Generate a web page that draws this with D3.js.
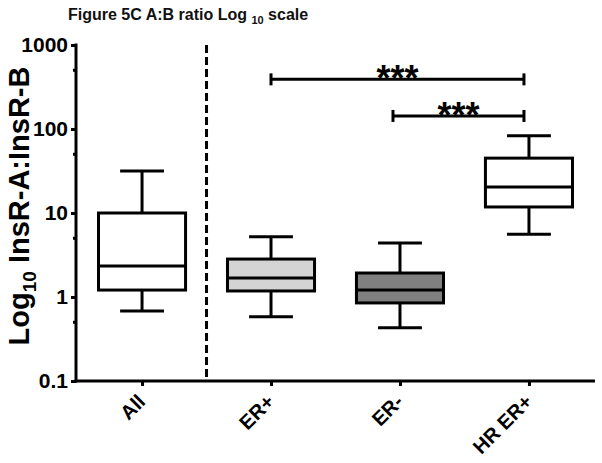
<!DOCTYPE html>
<html>
<head>
<meta charset="utf-8">
<script src="https://cdn.jsdelivr.net/npm/d3@7"></script>
<style>
  html, body { margin: 0; padding: 0; background: #fff; }
  svg { display: block; font-family: "Liberation Sans", Arial, sans-serif; }
</style>
</head>
<body>
<svg id="chart" width="602" height="463"></svg>
<script>
// ---- data ----
const categories = ["All", "ER+", "ER-", "HR ER+"];
const whiskerLow  = [0.68, 0.58, 0.43, 5.6];
const quartile1   = [1.21, 1.18, 0.85, 11.8];
const medians     = [2.34, 1.68, 1.21, 20.4];
const quartile3   = [10.0, 2.83, 1.93, 45];
const whiskerHigh = [31.6, 5.2, 4.4, 83];
const fills = ["#ffffff", "#d4d4d4", "#808080", "#ffffff"];
const yTicks = [0.1, 1, 10, 100, 1000];
const yMinorTicks = [0.5, 5, 50, 500];
// significance comparisons
const sigFrom = ["ER+", "ER-"];
const sigTo = ["HR ER+", "HR ER+"];
const sigLevel = [390, 143];
const sigLabel = ["***", "***"];

(function () {
const svg = d3.select("#chart");
const mLeft = 76, mRight = 595, mTop = 45, mBottom = 381;

const x = d3.scalePoint().domain(categories).range([mLeft, mRight]).padding(0.512);
const y = d3.scaleLog().domain([0.1, 1000]).range([mBottom, mTop]);
const step = x.step();
const boxW = step * 0.675;
const capW = step * 0.34;

// title
const title = svg.append("text")
  .attr("x", 68).attr("y", 20)
  .attr("font-size", 16).attr("font-weight", "bold").attr("fill", "#111");
title.append("tspan").text("Figure 5C A:B ratio Log ");
title.append("tspan").attr("font-size", 11).attr("dy", 4).text("10");
title.append("tspan").attr("dy", -4).text(" scale");

// y axis
const yAxis = d3.axisLeft(y).tickValues(yTicks).tickFormat(d3.format("~g")).tickSize(5).tickPadding(3);
const gy = svg.append("g").attr("transform", `translate(${mLeft},0)`).call(yAxis);
gy.select(".domain").remove();
gy.selectAll(".tick line").attr("stroke", "#000").attr("stroke-width", 3);
gy.selectAll(".tick text").attr("font-size", 21).attr("font-weight", "bold")
  .attr("fill", "#000").attr("font-family", "'Liberation Sans', Arial, sans-serif");
svg.append("g").selectAll("line").data(yMinorTicks).join("line")
  .attr("x1", mLeft - 3).attr("x2", mLeft)
  .attr("y1", d => y(d)).attr("y2", d => y(d))
  .attr("stroke", "#000").attr("stroke-width", 3);
svg.append("line").attr("x1", mLeft).attr("x2", mLeft).attr("y1", mTop - 1.5).attr("y2", mBottom + 1.5)
  .attr("stroke", "#000").attr("stroke-width", 3);

// x axis
const xAxis = d3.axisBottom(x).tickSize(5).tickPadding(0);
const gx = svg.append("g").attr("transform", `translate(0,${mBottom})`).call(xAxis);
gx.select(".domain").remove();
gx.selectAll(".tick line").attr("stroke", "#000").attr("stroke-width", 3);
gx.selectAll(".tick text")
  .attr("font-size", 20).attr("font-weight", "bold").attr("fill", "#000")
  .attr("font-family", "'Liberation Sans', Arial, sans-serif")
  .attr("text-anchor", "end").attr("dy", null).attr("y", 0)
  .attr("transform", "translate(4,22) rotate(-45)");
svg.append("line").attr("x1", mLeft - 1.5).attr("x2", mRight).attr("y1", mBottom).attr("y2", mBottom)
  .attr("stroke", "#000").attr("stroke-width", 3);

// y label
const yl = svg.append("text")
  .attr("transform", `translate(29,206) rotate(-90)`)
  .attr("text-anchor", "middle").attr("font-size", 29).attr("font-weight", "bold").attr("fill", "#000");
yl.append("tspan").text("Log");
yl.append("tspan").attr("font-size", 19).attr("dy", 7).text("10");
yl.append("tspan").attr("dy", -7).text(" InsR-A:InsR-B");

// dashed separator
const sepX = (x(categories[0]) + x(categories[1])) / 2;
svg.append("line").attr("x1", sepX).attr("x2", sepX).attr("y1", mTop).attr("y2", mBottom)
  .attr("stroke", "#000").attr("stroke-width", 3).attr("stroke-dasharray", "8,4");

// boxes
const data = categories.map((c, i) => ({c, lo: whiskerLow[i], q1: quartile1[i], med: medians[i], q3: quartile3[i], hi: whiskerHigh[i], fill: fills[i]}));
const g = svg.append("g").attr("stroke", "#000").attr("stroke-width", 3);
data.forEach(d => {
  const cx = x(d.c);
  g.append("line").attr("x1", cx).attr("x2", cx).attr("y1", y(d.hi)).attr("y2", y(d.q3));
  g.append("line").attr("x1", cx).attr("x2", cx).attr("y1", y(d.q1)).attr("y2", y(d.lo));
  g.append("line").attr("x1", cx - capW / 2).attr("x2", cx + capW / 2).attr("y1", y(d.hi)).attr("y2", y(d.hi));
  g.append("line").attr("x1", cx - capW / 2).attr("x2", cx + capW / 2).attr("y1", y(d.lo)).attr("y2", y(d.lo));
  g.append("rect").attr("x", cx - boxW / 2).attr("width", boxW)
    .attr("y", y(d.q3)).attr("height", y(d.q1) - y(d.q3)).attr("fill", d.fill);
  g.append("line").attr("x1", cx - boxW / 2).attr("x2", cx + boxW / 2).attr("y1", y(d.med)).attr("y2", y(d.med));
});

// significance bars
sigFrom.forEach((f, i) => {
  const x1 = x(f) - (i === 1 ? 7 : 0), x2 = x(sigTo[i]) - 5, yy = y(sigLevel[i]);
  const sg = svg.append("g").attr("stroke", "#000").attr("stroke-width", 3);
  sg.append("line").attr("x1", x1).attr("x2", x2).attr("y1", yy).attr("y2", yy);
  sg.append("line").attr("x1", x1).attr("x2", x1).attr("y1", yy - 6).attr("y2", yy + 6);
  sg.append("line").attr("x1", x2).attr("x2", x2).attr("y1", yy - 6).attr("y2", yy + 6);
  svg.append("text").attr("x", (x1 + x2) / 2).attr("y", yy + 12)
    .attr("text-anchor", "middle").attr("font-size", 36).attr("font-weight", "bold")
    .attr("fill", "#000").text(sigLabel[i]);
});
})();
</script>
</body>
</html>
